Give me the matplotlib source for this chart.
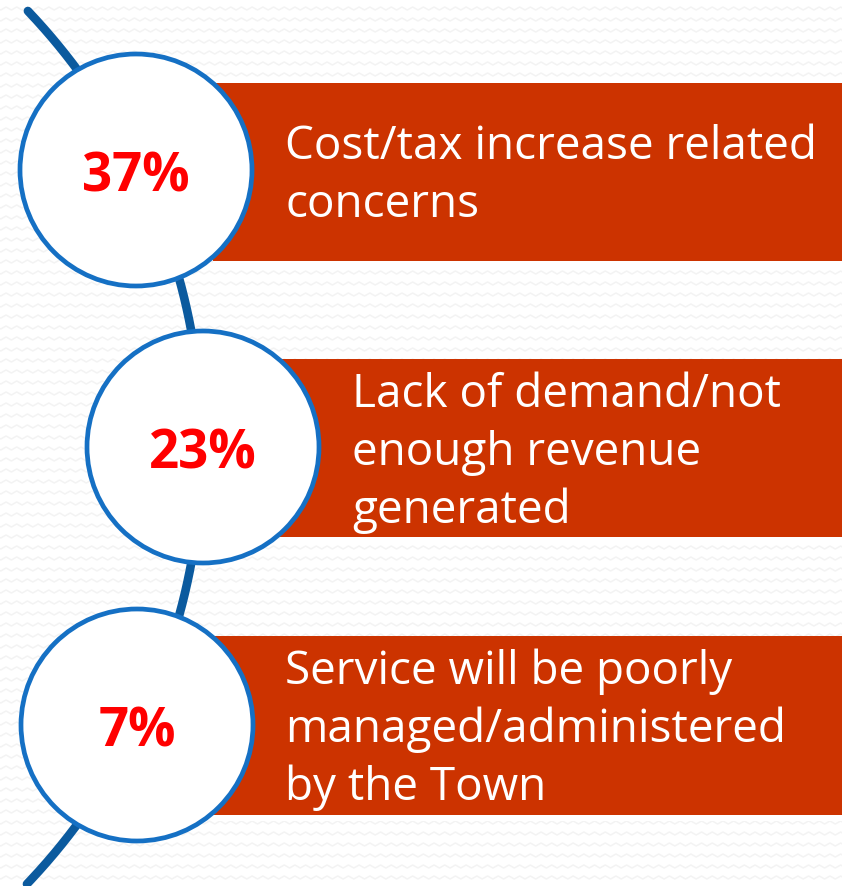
import numpy as np
import matplotlib
matplotlib.use("Agg")
import matplotlib.pyplot as plt
from matplotlib.patches import Circle, Rectangle
from matplotlib.collections import LineCollection

# data
percents = ["37%", "23%", "7%"]
labels = [
    ["Cost/tax increase related", "concerns"],
    ["Lack of demand/not", "enough revenue", "generated"],
    ["Service will be poorly", "managed/administered", "by the Town"],
]

# layout in pixel coords (y down)
W, H = 842, 887
centers = [(136, 171), (203, 448), (137, 726)]
radius = 116
bars = [(84, 262), (360, 538), (637, 816)]
bar_left = [213, 280, 213]
text_x = [285, 352, 285]
baselines = [[159, 217], [407, 465, 523], [684, 742, 800]]

bar_color = "#CC3300"
ring_color = "#1570C4"
line_color = "#0B5A9E"

fig = plt.figure(figsize=(W / 100, H / 100), dpi=100)
ax = fig.add_axes([0, 0, 1, 1])
ax.set_xlim(0, W)
ax.set_ylim(H, 0)
ax.axis("off")
fig.patch.set_facecolor("white")

# faint zigzag background
segs = []
xs = np.arange(-10, W + 12, 5.35)
for yrow in np.arange(0, H + 11, 11):
    ys = yrow + np.where(np.arange(len(xs)) % 2 == 0, 0, -3)
    segs.append(np.column_stack([xs, ys]))
ax.add_collection(LineCollection(segs, colors="#f3f3f3", linewidths=1.1, zorder=0))

# connector arc
cx, cy, R = -431, 448, 633
yy = np.linspace(12, 885, 400)
xx = cx + np.sqrt(R ** 2 - (yy - cy) ** 2)
ax.plot(xx, yy, color=line_color, lw=6.2, solid_capstyle="round", zorder=1)

for i in range(3):
    top, bot = bars[i]
    # thin white strip under the bar
    ax.add_patch(Rectangle((bar_left[i], top), W - bar_left[i], bot - top + 6,
                           facecolor="white", edgecolor="none", zorder=2))
    ax.add_patch(Rectangle((bar_left[i], top), W - bar_left[i], bot - top,
                           facecolor=bar_color, edgecolor="none", zorder=3))
    ax.add_patch(Circle(centers[i], radius, facecolor="white",
                        edgecolor=ring_color, lw=3.4, zorder=4))
    ax.text(centers[i][0], centers[i][1] + 21, percents[i], color="#FF0000",
            fontsize=38, fontweight="bold", family="Open Sans",
            ha="center", va="baseline", zorder=5)
    for line, b in zip(labels[i], baselines[i]):
        ax.text(text_x[i], b, line, color="white", fontsize=33,
                family="Open Sans", ha="left", va="baseline", zorder=5)

fig.savefig("out.png", dpi=100, facecolor="white")
